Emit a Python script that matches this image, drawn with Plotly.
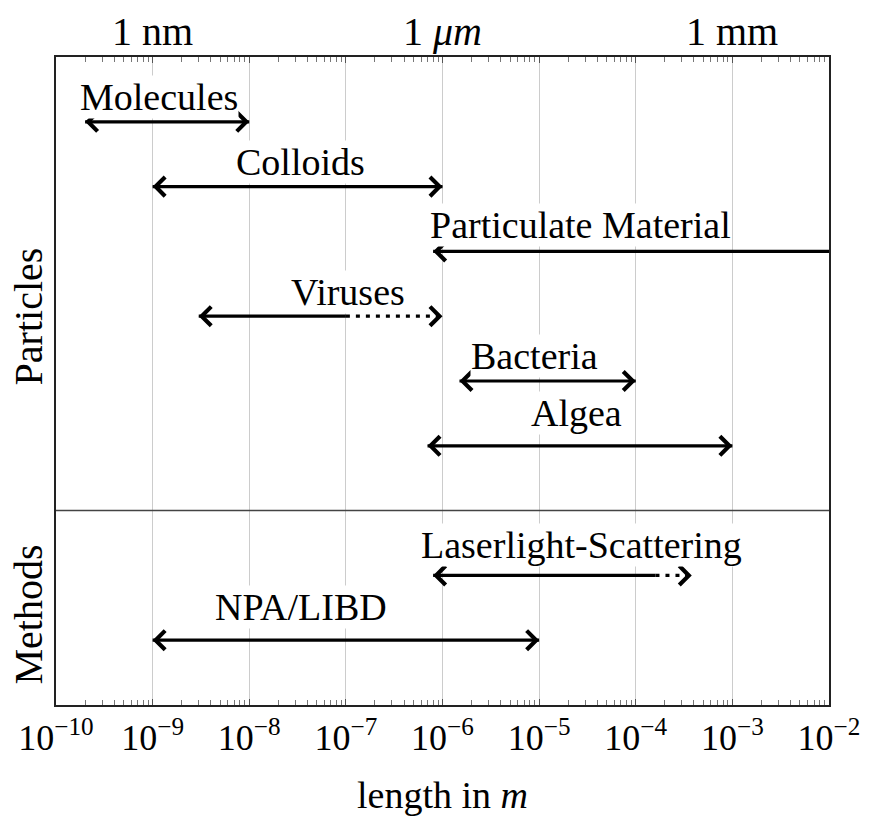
import math
import plotly.graph_objects as go

# ---------------- data ----------------
particles = ["Molecules", "Colloids", "Particulate Material", "Viruses", "Bacteria", "Algea"]
particles_lo = [2e-10, 1e-9, 8e-7, 3e-9, 1.5e-6, 7e-7]
particles_hi = [1e-8, 1e-6, 1e-2, 1e-7, 1e-4, 1e-3]
particles_uncertain_hi = [None, None, None, 1e-6, None, None]
particles_open_hi = [False, False, True, False, False, False]

methods = ["Laserlight-Scattering", "NPA/LIBD"]
methods_lo = [8e-7, 1e-9]
methods_hi = [1.6e-4, 1e-5]
methods_uncertain_hi = [3.8e-4, None]
methods_open_hi = [False, False]

tick_values = [1e-10, 1e-9, 1e-8, 1e-7, 1e-6, 1e-5, 1e-4, 1e-3, 1e-2]
tick_labels = ["10<sup>−10</sup>", "10<sup>−9</sup>", "10<sup>−8</sup>", "10<sup>−7</sup>",
               "10<sup>−6</sup>", "10<sup>−5</sup>", "10<sup>−4</sup>", "10<sup>−3</sup>",
               "10<sup>−2</sup>"]
unit_values = [1e-9, 1e-6, 1e-3]
unit_labels = ["1 nm", "1 <i>μm</i>", "1 mm"]

# label placement (layout only): centre in log10 x, vertical offset above the row (row units)
label_x = [-8.93, -7.47, -4.57, -6.98, -5.05, -4.61, -4.56, -7.46]
label_dy = [0.38, 0.38, 0.40, 0.38, 0.38, 0.50, 0.47, 0.52]

# ---------------- build ----------------
names = particles + methods
lo = particles_lo + methods_lo
hi = particles_hi + methods_hi
unc = particles_uncertain_hi + methods_uncertain_hi
open_hi = particles_open_hi + methods_open_hi
rows = [1, 2, 3, 4, 5, 6, 8, 9]
divider_row = 7
Y_RANGE = [10, 0]

SERIF = "Liberation Serif, Times New Roman, serif"
TAIL = 0.08
fig = go.Figure()
annotations = []


def head(tip, back, r):
    return dict(x=math.log10(tip), y=r, ax=math.log10(tip) + back, ay=r,
                xref="x", yref="y", axref="x", ayref="y", text="",
                showarrow=True, arrowhead=4, arrowsize=1.15, arrowwidth=3.2,
                arrowcolor="black", standoff=0)


for i, name in enumerate(names):
    r = rows[i]
    fig.add_trace(go.Scatter(x=[lo[i], hi[i]], y=[r, r], mode="lines",
                             line=dict(color="black", width=3.2), showlegend=False,
                             hoverinfo="skip"))
    tip_hi = hi[i]
    if unc[i] is not None:
        fig.add_trace(go.Scatter(x=[hi[i], unc[i]], y=[r, r], mode="lines",
                                 line=dict(color="black", width=3.2, dash="4px,6px"),
                                 showlegend=False, hoverinfo="skip"))
        tip_hi = unc[i]
    annotations.append(head(lo[i], TAIL, r))
    if not open_hi[i]:
        annotations.append(head(tip_hi, -TAIL, r))
    annotations.append(dict(x=label_x[i], y=r - label_dy[i], xref="x", yref="y",
                            text=name, showarrow=False, bgcolor="white", borderpad=0,
                            font=dict(family=SERIF, size=38, color="black"),
                            xanchor="center", yanchor="middle"))

for v, t in zip(unit_values, unit_labels):
    annotations.append(dict(x=math.log10(v), y=1, xref="x", yref="paper", text=t,
                            showarrow=False, yanchor="middle", yshift=26,
                            font=dict(family=SERIF, size=40, color="black")))

annotations.append(dict(x=28, y=4.0, xref="paper", yref="y", xanchor="center",
                        text="Particles", textangle=-90, showarrow=False,
                        font=dict(family=SERIF, size=40, color="black")))
annotations.append(dict(x=28, y=8.6, xref="paper", yref="y", xanchor="center",
                        text="Methods", textangle=-90, showarrow=False,
                        font=dict(family=SERIF, size=40, color="black")))
# convert pixel x of side titles into paper fraction
plot_w = 872 - 56 - 37
for a in annotations[-2:]:
    a["x"] = (a["x"] - 56) / plot_w

fig.add_shape(type="line", xref="paper", yref="y", x0=0, x1=1, y0=divider_row, y1=divider_row,
              line=dict(color="#444444", width=1.5))

fig.update_layout(
    width=872, height=821,
    margin=dict(l=56, r=37, t=57, b=108),
    plot_bgcolor="white", paper_bgcolor="white",
    annotations=annotations,
    xaxis=dict(type="log", range=[-10, -2], tickmode="array", tickvals=tick_values,
               ticktext=tick_labels, tickfont=dict(family=SERIF, size=36, color="black"),
               showgrid=True, gridcolor="#cccccc", gridwidth=1,
               ticks="inside", ticklen=6, tickcolor="#555555",
               minor=dict(dtick="D1", ticks="inside", ticklen=5, tickcolor="#777777",
                          showgrid=False),
               showline=True, linecolor="#222222", linewidth=1.5, mirror="allticks",
               zeroline=False,
               title=dict(text="length in <i>m</i>", font=dict(family=SERIF, size=38, color="black"),
                          standoff=24)),
    yaxis=dict(range=Y_RANGE, showgrid=False, showticklabels=False, ticks="",
               zeroline=False, showline=True, linecolor="#222222", linewidth=1.5, mirror=True),
)

fig.write_html("out.html")
